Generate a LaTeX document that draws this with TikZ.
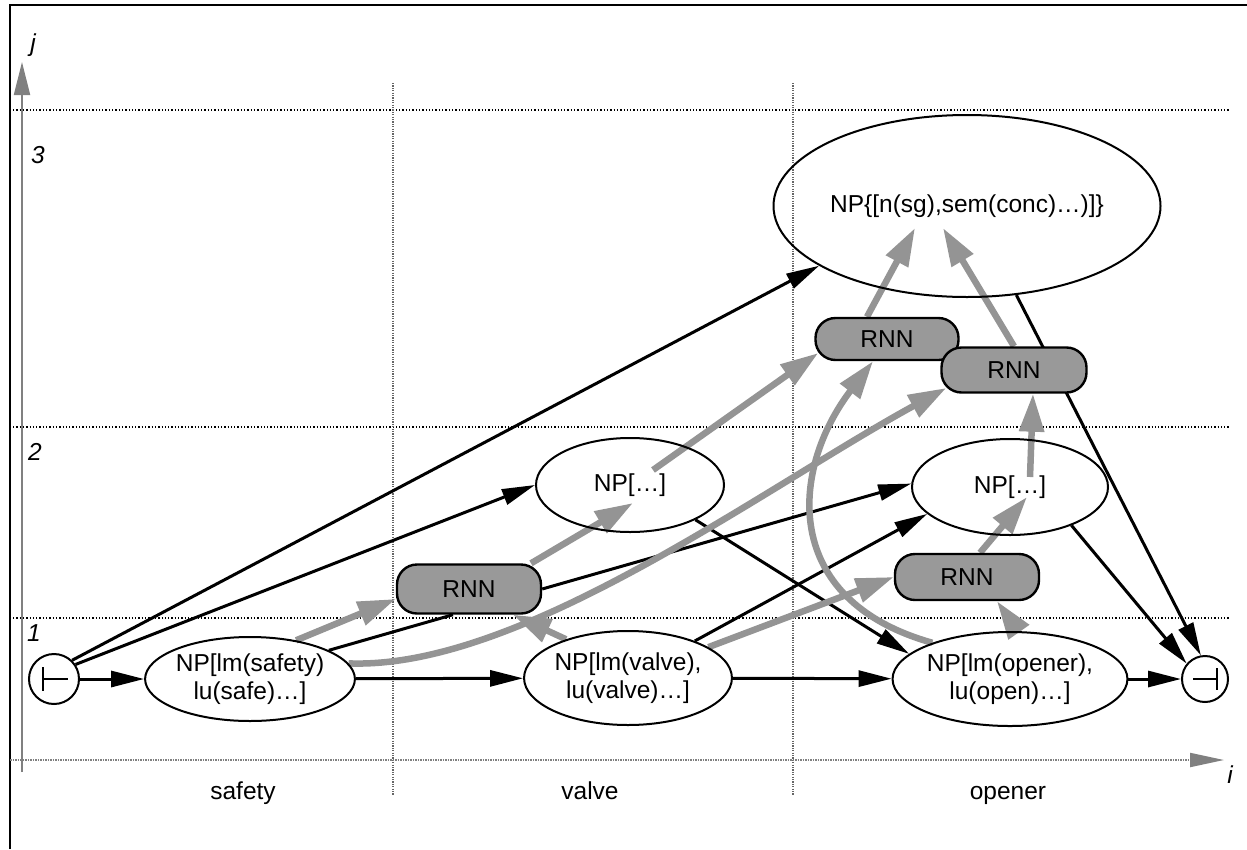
\documentclass[tikz,border=0pt]{standalone}
\usepackage{fontspec}
\setmainfont{Liberation Sans}
\usetikzlibrary{shapes.geometric,arrows.meta,calc}
\pgfdeclarelayer{grid}
\pgfdeclarelayer{edges}
\pgfsetlayers{grid,edges,main}

\begin{document}
\begin{tikzpicture}[x=1pt,y=-1pt,
  every node/.style={font=\fontsize{24.5}{28}\selectfont},
  npnode/.style={draw, ellipse, line width=2pt, inner sep=0pt, align=center},
  rnnbox/.style={draw, line width=2.4pt, rounded corners=20pt, fill=black!40,
                 minimum width=144pt, inner sep=0pt},
  endmark/.style={draw, circle, line width=2pt, inner sep=0pt},
  blackarrow/.style={line width=3pt, -{Triangle[length=33pt,width=16pt]}},
  plainline/.style={line width=3pt},
  greyarrow/.style={line width=6.5pt, draw=black!42, -{Triangle[length=38pt,width=24pt]}},
  gridline/.style={line width=1.3pt, dash pattern=on 1.3pt off 2pt},
  colline/.style={line width=1.8pt, draw=black!60, dash pattern=on 1.2pt off 1.2pt},
  axisline/.style={line width=2pt, draw=black!50},
  axislabel/.style={font=\fontsize{24.5}{28}\selectfont\itshape},
  wordlabel/.style={anchor=base},
]
\useasboundingbox (0,0) rectangle (1247,849);

% frame, grid and axes
\begin{pgfonlayer}{grid}
  \draw[line width=2pt] (10,849) -- (10,5) -- (1247,5);
  \draw[gridline] (13,110) -- (1230,110);
  \draw[gridline] (13,427) -- (1230,427);
  \draw[gridline] (13,618) -- (1230,618);
  \draw[colline] (393,83) -- (393,795);
  \draw[colline] (793,83) -- (793,795);
  \draw[axisline, -{Triangle[length=33pt,width=16pt]}] (22,772) -- (22,62);
  \draw[axisline, dash pattern=on 1.5pt off 1pt, -{Triangle[length=34pt,width=14pt]}] (10,760) -- (1224,760);
\end{pgfonlayer}

\node[axislabel] (lj) at (33,45) {j};
\node[axislabel] (li) at (1230,775) {i};
\node[axislabel] (l3) at (38,155) {3};
\node[axislabel] (l2) at (35,452) {2};
\node[axislabel] (l1) at (34,633) {1};

\node[wordlabel] (wsafety) at (243,799) {safety};
\node[wordlabel] (wvalve) at (590,799) {valve};
\node[wordlabel] (wopener) at (1008,799) {opener};

% chart items
\node[endmark, minimum size=50pt] (ini) at (54,679) {};
\node[endmark, minimum size=46pt] (fin) at (1205,679) {};
\draw[line width=2pt] ($(ini)+(-11,-12)$) -- ($(ini)+(-11,12)$)
                      ($(ini)+(-11,0)$) -- ($(ini)+(14,0)$);
\draw[line width=2pt] ($(fin)+(12,-11)$) -- ($(fin)+(12,11)$)
                      ($(fin)+(12,0)$) -- ($(fin)+(-12,0)$);

\node[npnode, minimum width=194pt, minimum height=84pt] (safety) at (250,679) {NP[lm(safety)\\lu(safe)…]};
\node[npnode, minimum width=188pt, minimum height=94pt] (valve) at (628,678) {NP[lm(valve),\\lu(valve)…]};
\node[npnode, minimum width=192pt, minimum height=94pt] (opener) at (1010,679) {NP[lm(opener),\\lu(open)…]};
\node[npnode, minimum width=188pt, minimum height=94pt] (npv2) at (630,485) {NP[…]};
\node[npnode, minimum width=196pt, minimum height=96pt] (npo2) at (1010,487) {NP[…]};
\node[npnode, minimum width=290pt, minimum height=182pt] (npTop) at (967,206) {NP\{[n(sg),sem(conc)…)]\}};

\node[rnnbox, minimum height=49pt] (r1) at (469,589) {RNN};
\node[rnnbox, minimum height=42pt, minimum width=143pt] (r2) at (887,339) {RNN};
\node[rnnbox, minimum height=45pt, minimum width=145pt] (r3) at (1014,370) {RNN};
\node[rnnbox, minimum height=46pt] (r4) at (967,577) {RNN};

\begin{pgfonlayer}{edges}
  % chart edges
  \draw[blackarrow] (ini) -- (safety);
  \draw[blackarrow] (ini.34) -- (npv2.west);
  \draw[blackarrow] (ini.46) -- (npTop.202);
  \draw[blackarrow] (safety) -- (valve);
  \draw[blackarrow] (valve) -- (opener);
  \draw[blackarrow] (opener) -- (fin);
  \draw[plainline] (safety.20) -- ($(r1.south)+(-16,0)$);
  \draw[blackarrow] (r1.east) -- (npo2.178);
  \draw[blackarrow] (valve.29) -- (npo2.198);
  \draw[blackarrow] (npv2.332) -- (opener.166);
  \draw[blackarrow] (npo2.328) -- (fin.140);
  \draw[blackarrow] (npTop.299) -- (fin.100);

  % network links
  \draw[greyarrow] (safety.40) -- ($(r1.west)+(0,10)$);
  \draw[greyarrow] (valve.148) -- ($(r1.south)+(44,0)$);
  \draw[greyarrow] ($(r1.north)+(62,0)$) -- ($(npv2.center)+(3,18)$);
  \draw[greyarrow] ($(npv2.center)+(23,-15)$) -- ($(r2.west)+(4,14)$);
  \draw[greyarrow] (safety.9) .. controls (520,670) and (760,490) .. ($(r3.west)+(6,18)$);
  \draw[greyarrow] (valve.21) -- (r4.west);
  \draw[greyarrow] (opener.155) .. controls (780,600) and (790,470) .. ($(r2.south)+(-14,0)$);
  \draw[greyarrow] ($(opener.north)+(8,0)$) -- ($(r4.south)+(30,0)$);
  \draw[greyarrow] ($(r4.north)+(13,0)$) -- ($(npo2.center)+(17,10)$);
  \draw[greyarrow] ($(npo2.center)+(20,-10)$) -- ($(r3.south)+(19,0)$);
  \draw[greyarrow] ($(r2.north)+(-20,0)$) -- ($(npTop.center)+(-52,22)$);
  \draw[greyarrow] (r3.north) -- ($(npTop.center)+(-24,22)$);
\end{pgfonlayer}
\end{tikzpicture}
\end{document}
